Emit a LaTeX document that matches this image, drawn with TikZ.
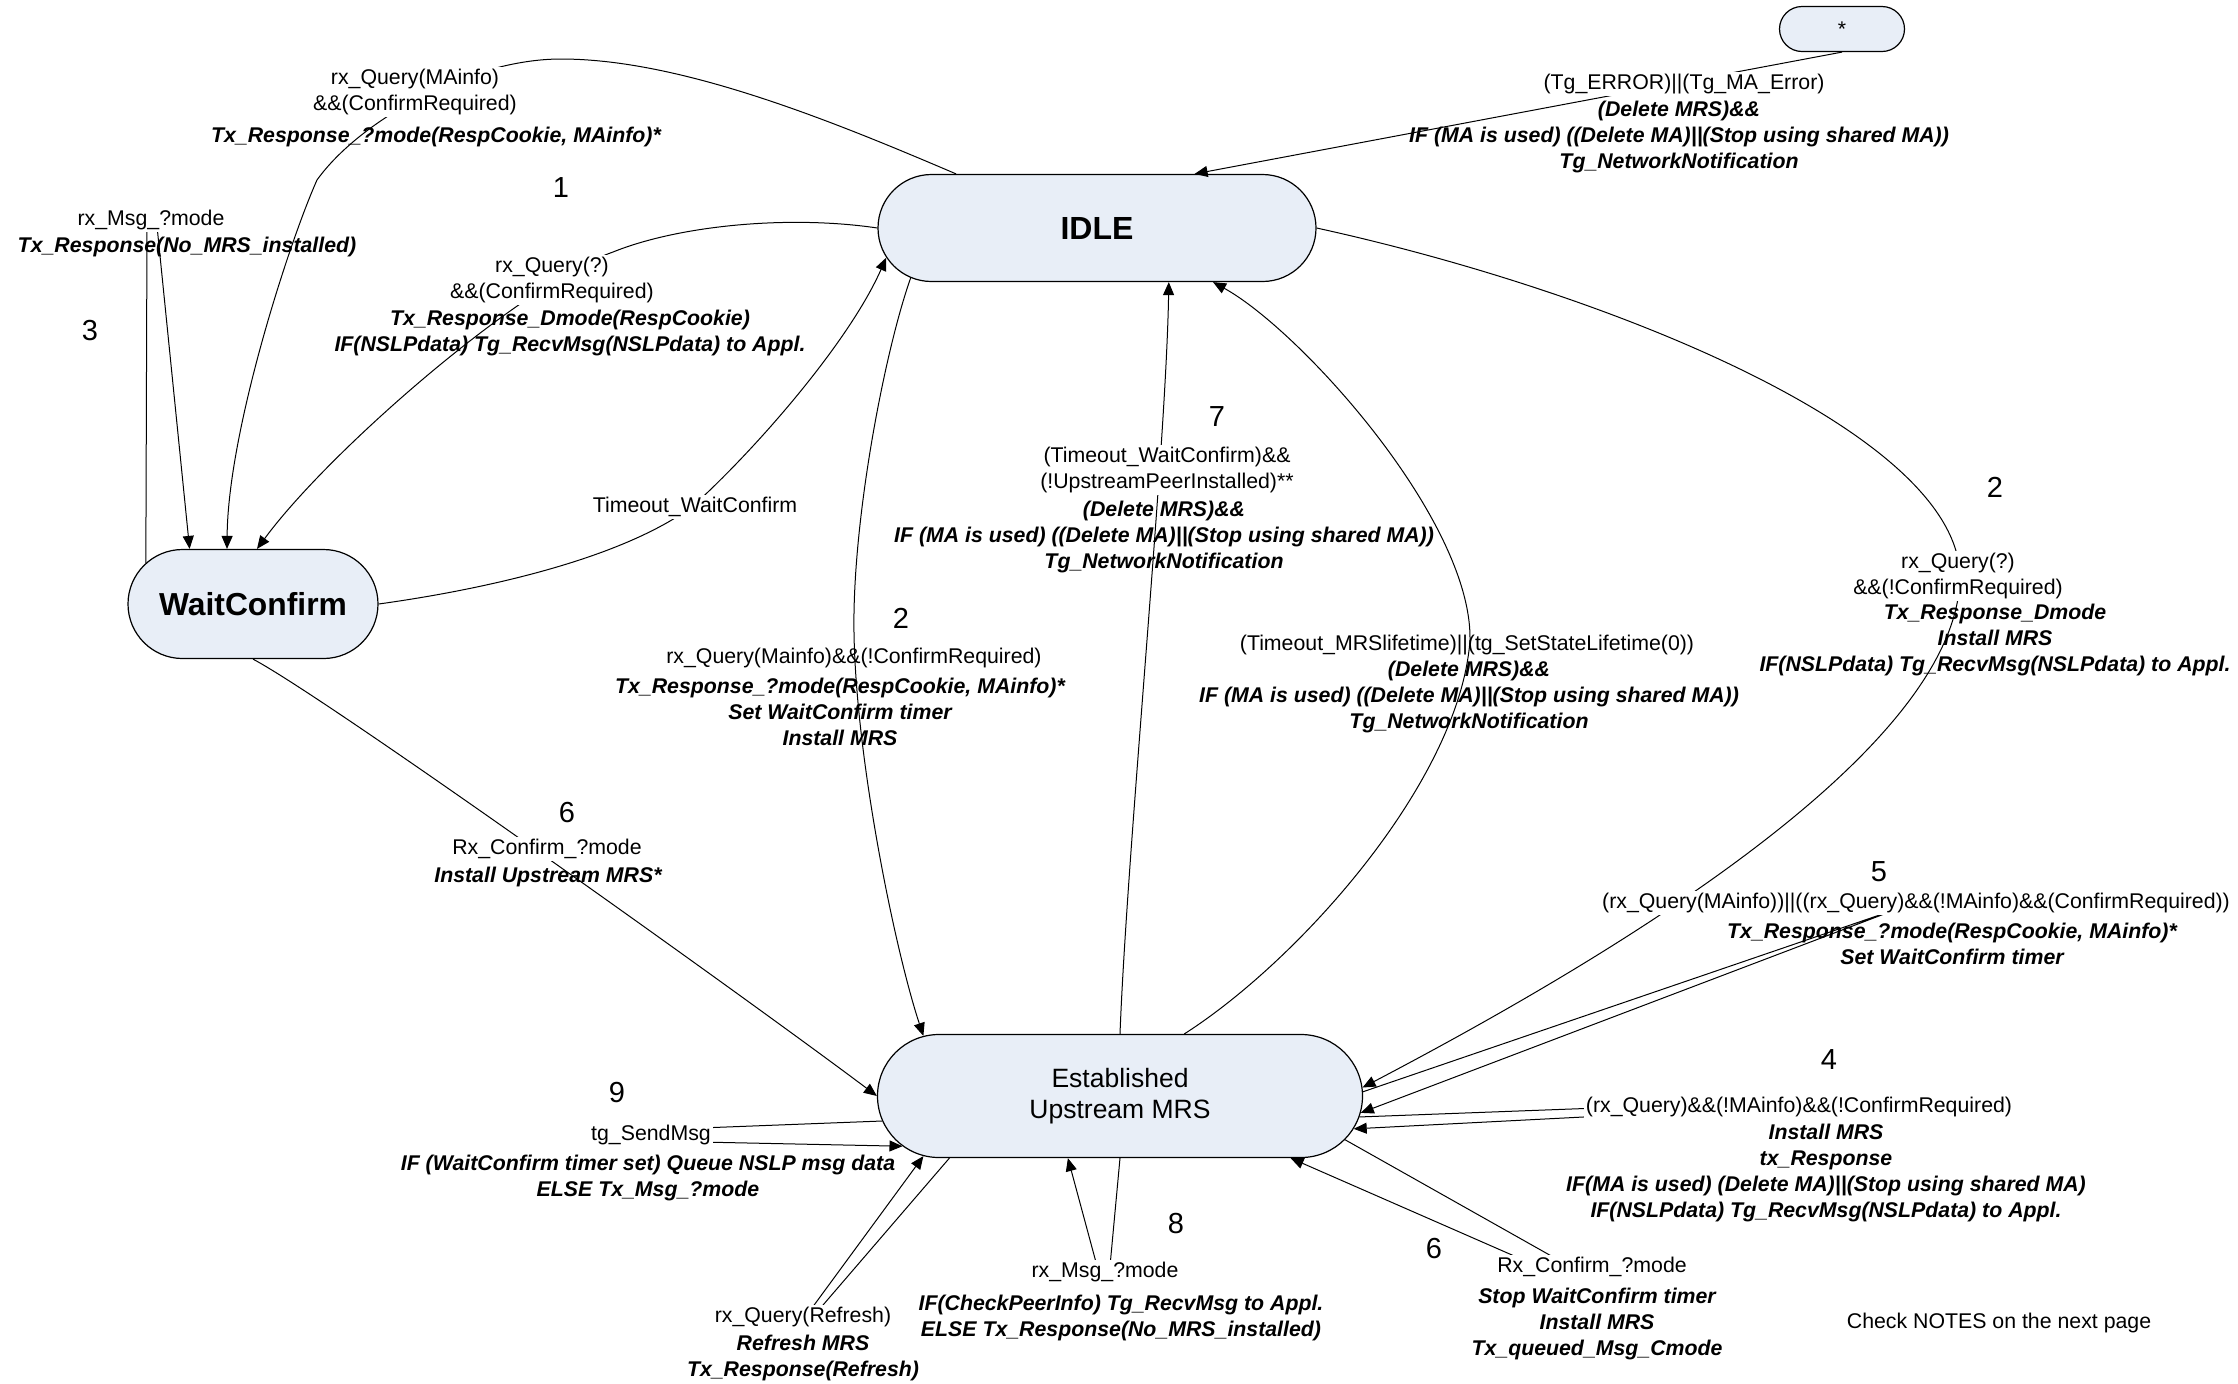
\documentclass[tikz,border=0pt]{standalone}
\usepackage{fontspec}
\setmainfont{Liberation Sans}
\usepackage{tikz}
\usetikzlibrary{arrows.meta,positioning,shapes.misc,calc}
\definecolor{statefill}{RGB}{232,238,247}

\begin{document}
\begin{tikzpicture}[
  x=0.5pt, y=-0.5pt,
  state/.style={rounded rectangle, draw, fill=statefill, line width=0.6pt, inner sep=0pt, align=center},
  guard/.style={font=\fontsize{10.65}{13}\selectfont, align=center, fill=white, inner sep=1pt},
  guardclear/.style={guard, fill=none},
  action/.style={font=\fontsize{10.65}{13}\selectfont\bfseries\itshape, align=center, inner sep=0pt},
  num/.style={font=\fontsize{14.5}{16}\selectfont, inner sep=0pt},
  arrow/.style={-{Triangle[length=6.5pt,width=5.5pt]}, line width=0.5pt}
]
\useasboundingbox (0,0) rectangle (2238,1383);

% states
\node[state, minimum width=219pt, minimum height=53.5pt, font=\fontsize{16}{19}\selectfont\bfseries] (idle) at (1097,228) {IDLE};
\node[state, minimum width=125pt, minimum height=54.5pt, font=\fontsize{15.9}{19}\selectfont\bfseries] (wait) at (253,604) {WaitConfirm};
\node[state, minimum width=242.5pt, minimum height=61.5pt, font=\fontsize{13.25}{15.5}\selectfont] (est) at (1120,1096) {Established\\Upstream MRS};
\node[state, minimum width=62.5pt, minimum height=22.5pt, font=\fontsize{10.65}{13}\selectfont] (star) at (1842,29) {*};

% transitions
\draw[arrow] (star.south) -- (idle.29);
\draw[arrow] (idle.159) .. controls (830,120) and (680,59) .. (561,59)
  .. controls (470,59) and (360,120) .. (317,180)
  .. controls (290,240) and (228,430) .. ($(wait.north)+(-26,0)$);
\draw[arrow] (idle.west) .. controls (790,215) and (680,225) .. (613,252)
  .. controls (520,285) and (330,450) .. ($(wait.north)+(4,0)$);
\draw[arrow] (wait.159) -- (147,226) -- (157,226) -- (wait.139);
\draw[arrow] (wait.east) .. controls (480,590) and (620,560) .. (693,506)
  .. controls (760,445) and (850,340) .. (idle.188);
\draw[arrow] (idle.195) .. controls (885,350) and (852,520) .. (854,633)
  .. controls (856,760) and (895,950) .. (est.163);
\draw[arrow] (est.north) .. controls (1127,850) and (1166,450) .. (idle.-37);
\draw[arrow] (est.44) .. controls (1300,960) and (1460,780) .. (1470,640)
  .. controls (1472,520) and (1300,330) .. (idle.-25.5);
\draw[arrow] (idle.east) .. controls (1600,290) and (1955,430) .. (1960,575)
  .. controls (1960,720) and (1720,900) .. (est.2);
\draw[arrow] (wait.south) .. controls (330,700) and (760,1008) .. (est.west);
\draw[arrow] (est.1) -- (1900,908) -- (est.-4);
\draw[arrow] (est.-5.8) -- (1598,1108) -- (1622,1115) -- (est.-8.6);
\draw[arrow] (est.186.5) -- (700,1128) -- (700,1142) -- (est.193.5);
\draw[arrow] (est.200) -- (817,1312) -- (809,1312) -- (est.197);
\draw[arrow] (est.south) -- (1110,1266) -- (1097,1266) -- (est.230);
\draw[arrow] (est.-11.5) -- (1562,1262) -- (1528,1262) -- (est.-20);

% labels
\node[guard] (errGuard) at (1684,84) {(Tg\_ERROR)||(Tg\_MA\_Error)};
\node[action] (errAct) at (1679,137) {(Delete MRS)\&\&\\IF (MA is used) ((Delete MA)||(Stop using shared MA))\\Tg\_NetworkNotification};

\node[guard] (qmaGuard) at (415,92) {rx\_Query(MAinfo)\\\&\&(ConfirmRequired)};
\node[action] (qmaAct) at (436,137) {Tx\_Response\_?mode(RespCookie, MAinfo)*};
\node[num] (n1) at (561,188) {1};

\node[guard] (qcrGuard) at (552,280) {rx\_Query(?)\\\&\&(ConfirmRequired)};
\node[action] (qcrAct) at (570,333) {Tx\_Response\_Dmode(RespCookie)\\IF(NSLPdata) Tg\_RecvMsg(NSLPdata) to Appl.};

\node[guard] (rxmGuard) at (151,220) {rx\_Msg\_?mode};
\node[action] (rxmAct) at (187,247) {Tx\_Response(No\_MRS\_installed)};
\node[num] (n3) at (90,331) {3};

\node[guard] (towGuard) at (695,507) {Timeout\_WaitConfirm};

\node[num] (n2a) at (901,618) {2};
\node[guardclear] (qncGuard) at (854,658) {rx\_Query(Mainfo)\&\&(!ConfirmRequired)};
\node[action] (qncAct) at (840,712) {Tx\_Response\_?mode(RespCookie, MAinfo)*\\Set WaitConfirm timer\\Install MRS};

\node[num] (n7) at (1217,417) {7};
\node[guard] (towpGuard) at (1167,470) {(Timeout\_WaitConfirm)\&\&\\(!UpstreamPeerInstalled)**};
\node[action] (towpAct) at (1164,537) {(Delete MRS)\&\&\\IF (MA is used) ((Delete MA)||(Stop using shared MA))\\Tg\_NetworkNotification};

\node[guardclear] (lifeGuard) at (1467,645) {(Timeout\_MRSlifetime)||(tg\_SetStateLifetime(0))};
\node[action] (lifeAct) at (1469,697) {(Delete MRS)\&\&\\IF (MA is used) ((Delete MA)||(Stop using shared MA))\\Tg\_NetworkNotification};

\node[num] (n2b) at (1995,487) {2};
\node[guard] (qdGuard) at (1958,576) {rx\_Query(?)\\\&\&(!ConfirmRequired)};
\node[action] (qdAct) at (1995,640) {Tx\_Response\_Dmode\\Install MRS\\IF(NSLPdata) Tg\_RecvMsg(NSLPdata) to Appl.};

\node[num] (n6a) at (567,813) {6};
\node[guard] (cfmGuard) at (547,849) {Rx\_Confirm\_?mode};
\node[action] (cfmAct) at (548,877) {Install Upstream MRS*};

\node[num] (n5) at (1879,872) {5};
\node[guard] (q5Guard) at (1916,903) {(rx\_Query(MAinfo))||((rx\_Query)\&\&(!MAinfo)\&\&(ConfirmRequired))};
\node[action] (q5Act) at (1952,944) {Tx\_Response\_?mode(RespCookie, MAinfo)*\\Set WaitConfirm timer};

\node[num] (n4) at (1829,1060) {4};
\node[guard] (q4Guard) at (1799,1107) {(rx\_Query)\&\&(!MAinfo)\&\&(!ConfirmRequired)};
\node[action] (q4Act) at (1826,1173) {Install MRS\\tx\_Response\\IF(MA is used) (Delete MA)||(Stop using shared MA)\\IF(NSLPdata) Tg\_RecvMsg(NSLPdata) to Appl.};

\node[num] (n9) at (617,1092) {9};
\node[guard] (sendGuard) at (651,1135) {tg\_SendMsg};
\node[action] (sendAct) at (648,1178) {IF (WaitConfirm timer set) Queue NSLP msg data\\ELSE Tx\_Msg\_?mode};

\node[guard] (refGuard) at (803,1317) {rx\_Query(Refresh)};
\node[action] (refAct) at (803,1358) {Refresh MRS\\Tx\_Response(Refresh)};

\node[num] (n8) at (1176,1223) {8};
\node[guard] (msgGuard) at (1105,1272) {rx\_Msg\_?mode};
\node[action] (msgAct) at (1121,1318) {IF(CheckPeerInfo) Tg\_RecvMsg to Appl.\\ELSE Tx\_Response(No\_MRS\_installed)};

\node[num] (n6b) at (1434,1248) {6};
\node[guard] (cfm2Guard) at (1592,1267) {Rx\_Confirm\_?mode};
\node[action] (cfm2Act) at (1597,1324) {Stop WaitConfirm timer\\Install MRS\\Tx\_queued\_Msg\_Cmode};

\node[guardclear] (note) at (1999,1323) {Check NOTES on the next page};
\end{tikzpicture}
\end{document}
